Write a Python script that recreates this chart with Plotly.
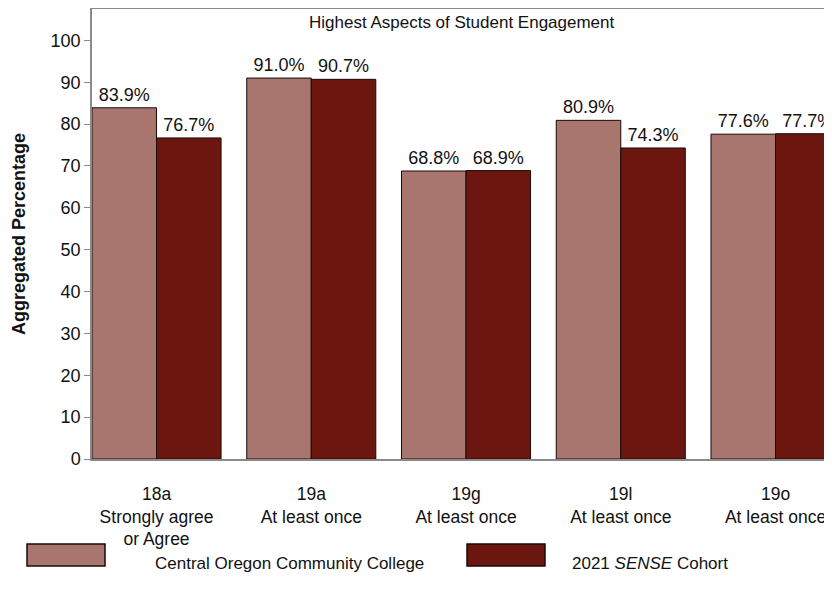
import plotly.graph_objects as go

categories = ["18a<br>Strongly agree<br>or Agree", "19a<br>At least once", "19g<br>At least once",
              "19l<br>At least once", "19o<br>At least once"]
college_values = [83.9, 91.0, 68.8, 80.9, 77.6]
cohort_values = [76.7, 90.7, 68.9, 74.3, 77.7]
series_names = ["Central Oregon Community College", "2021 <i>SENSE</i> Cohort"]
colors = ["#A8756F", "#6C1610"]
title_text = "Highest Aspects of Student Engagement"
y_title = "<b>Aggregated Percentage</b>"

# page body has an 8px margin; reference pixel positions are converted below
OFF = 8
W, H = 824, 592
L, R, T, B = 84, 0, 1, 141
FONT = "Arial, Liberation Sans, sans-serif"
TXT = "#111111"

fig = go.Figure()
for name, vals, col in zip(series_names, [college_values, cohort_values], colors):
    fig.add_trace(go.Bar(
        x=categories, y=vals, name=name,
        marker=dict(color=col, line=dict(color="#1a0a08", width=1)),
        texttemplate="%{y:.1f}%", textposition="outside",
        textfont=dict(family=FONT, size=18, color=TXT),
        cliponaxis=False, showlegend=False,
    ))

def px_x(p):
    return (p - OFF - L) / (W - L - R)

def px_y(p):
    return (H - B - (p - OFF)) / (H - T - B)

shapes = []
annotations = []
legend_pos = [(27, 153), (467, 570)]
for (sx, tx), name, col in zip(legend_pos, series_names, colors):
    shapes.append(dict(type="rect", xref="paper", yref="paper",
                       x0=px_x(sx), x1=px_x(sx + 78), y0=px_y(566), y1=px_y(544),
                       fillcolor=col, line=dict(color="#1a0a08", width=1.5)))
    annotations.append(dict(xref="paper", yref="paper", x=px_x(tx), y=px_y(563),
                            text=name, showarrow=False, xanchor="left", yanchor="middle",
                            font=dict(family=FONT, size=17, color=TXT)))

annotations.append(dict(xref="paper", yref="paper", x=0.5, y=px_y(23), text=title_text,
                        showarrow=False, xanchor="center", yanchor="middle",
                        font=dict(family=FONT, size=17, color=TXT)))
annotations.append(dict(xref="paper", yref="paper", x=px_x(19), y=px_y(234), text=y_title,
                        showarrow=False, xanchor="center", yanchor="middle", textangle=-90,
                        font=dict(family=FONT, size=18, color=TXT)))

fig.update_layout(
    width=W, height=H, margin=dict(l=L, r=R, t=T, b=B, autoexpand=False),
    paper_bgcolor="white", plot_bgcolor="white",
    barmode="group", bargap=0.166, bargroupgap=0,
    font=dict(family=FONT, color=TXT),
    shapes=shapes, annotations=annotations,
)
fig.update_xaxes(range=[-0.417, 4.365], showline=True, linecolor="#8a8a8a", linewidth=1.5,
                 mirror=True, ticks="", tickfont=dict(family=FONT, size=17.5, color=TXT),
                 ticklabelstandoff=18, showgrid=False)
fig.update_yaxes(range=[0, 107.5], tickvals=list(range(0, 101, 10)), showline=True,
                 linecolor="#8a8a8a", linewidth=1.5, ticks="outside", ticklen=6,
                 tickcolor="#8a8a8a", tickfont=dict(family=FONT, size=18, color=TXT),
                 showgrid=False, zeroline=False)

fig.write_html("out.html")
